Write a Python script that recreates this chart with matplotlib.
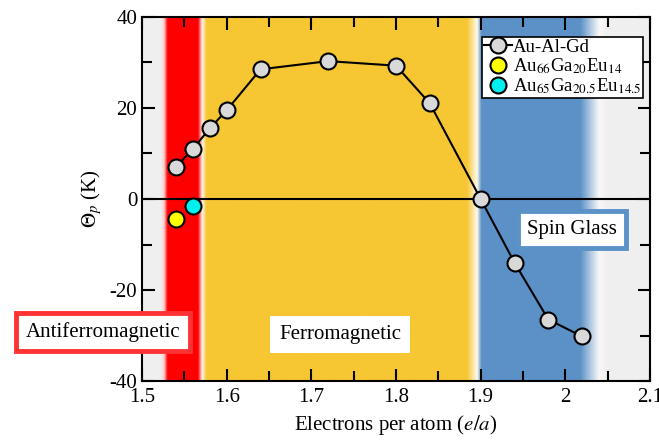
import numpy as np
import matplotlib
matplotlib.use("Agg")
import matplotlib.pyplot as plt
from matplotlib.ticker import MultipleLocator

plt.rcParams['font.family'] = ['Liberation Serif', 'DejaVu Serif']
plt.rcParams['mathtext.fontset'] = 'stix'

# Data
ea_augd = [1.54, 1.56, 1.58, 1.60, 1.64, 1.72, 1.80, 1.84, 1.90, 1.94, 1.98, 2.02]
theta_augd = [7.0, 11.0, 15.5, 19.5, 28.5, 30.3, 29.3, 21.0, 0.0, -14.0, -26.5, -30.2]
ea_eu14 = [1.54]
theta_eu14 = [-4.5]
ea_eu145 = [1.56]
theta_eu145 = [-1.6]

xticks = [1.5, 1.6, 1.7, 1.8, 1.9, 2.0, 2.1]
xticklabels = ['1.5', '1.6', '1.7', '1.8', '1.9', '2', '2.1']
yticks = [-40, -20, 0, 20, 40]
yticklabels = ['-40', '-20', '0', '20', '40']

fig = plt.figure(figsize=(6.59, 4.41), dpi=100)
ax = fig.add_axes([0.2155, 0.136, 0.7708, 0.8255])
xmin, xmax, ymin, ymax = 1.5, 2.1, -40, 40

# Background gradient (phase regions)
gray = (0.94, 0.94, 0.94)
red = (1.0, 0.0, 0.0)
yel = (0.965, 0.78, 0.2)
blu = (0.36, 0.57, 0.78)
wht = (1.0, 0.97, 0.95)
stops = [
    (1.500, gray), (1.522, gray), (1.526, (1.0, 0.8, 0.8)), (1.530, red),
    (1.566, red), (1.571, wht), (1.576, yel),
    (1.884, yel), (1.896, (1.0, 0.98, 0.92)), (1.901, blu),
    (2.018, blu), (2.040, (0.97, 0.97, 0.97)), (2.05, gray), (2.1, gray),
]
xs = np.linspace(xmin, xmax, 1200)
sx = [s[0] for s in stops]
rgb = np.stack([np.interp(xs, sx, [s[1][c] for s in stops]) for c in range(3)], axis=-1)
ax.imshow(rgb[np.newaxis, :, :], extent=[xmin, xmax, ymin, ymax], aspect='auto',
          interpolation='bilinear', zorder=0)

ax.axhline(0, color='black', lw=1.5, zorder=2)

ax.plot(ea_augd, theta_augd, '-o', color='black', lw=1.5, ms=11.5,
        mfc='#d9d9d9', mec='black', mew=1.5, label='Au-Al-Gd', zorder=4)
ax.plot(ea_eu14, theta_eu14, 'o', ms=11.5, mfc='#ffff00', mec='black', mew=1.5,
        label='Au$_{66}$Ga$_{20}$Eu$_{14}$', zorder=4)
ax.plot(ea_eu145, theta_eu145, 'o', ms=11.5, mfc='#00f0f0', mec='black', mew=1.5,
        label='Au$_{65}$Ga$_{20.5}$Eu$_{14.5}$', zorder=4)

ax.set_xlim(xmin, xmax)
ax.set_ylim(ymin, ymax)
ax.set_xticks(xticks)
ax.set_xticklabels(xticklabels)
ax.set_yticks(yticks)
ax.set_yticklabels(yticklabels)
ax.xaxis.set_minor_locator(MultipleLocator(0.05))
ax.yaxis.set_minor_locator(MultipleLocator(10))
ax.tick_params(which='both', direction='in', top=True, right=True, labelsize=15, width=1.5)
ax.tick_params(which='major', length=9)
ax.tick_params(which='minor', length=7)
ax.tick_params(axis='x', pad=5)
for s in ax.spines.values():
    s.set_linewidth(1.5)

ax.set_xlabel('Electrons per atom ($e/a$)', fontsize=15, labelpad=4)
ax.set_ylabel(r'$\Theta_p$ (K)', fontsize=15, labelpad=4)

leg = ax.legend(loc='upper right', bbox_to_anchor=(643 / 659, 1 - 37 / 441),
                bbox_transform=fig.transFigure, fontsize=13.5, frameon=True,
                fancybox=False, edgecolor='black', framealpha=1, handlelength=1.5,
                handletextpad=0.05, borderpad=0.1, labelspacing=0.02, borderaxespad=0.0)
leg.get_frame().set_linewidth(1.2)

ax.text(1.454, -29.2, 'Antiferromagnetic', fontsize=15, ha='center', va='center', zorder=6,
        clip_on=False,
        bbox=dict(boxstyle='square,pad=0.45', fc='white', ec='#ff3333', lw=3.5))
ax.text(1.734, -29.8, 'Ferromagnetic', fontsize=15, ha='center', va='center', zorder=6,
        bbox=dict(boxstyle='square,pad=0.45', fc='white', ec='none'))
ax.text(2.008, -6.7, 'Spin Glass', fontsize=15, ha='center', va='center', zorder=6,
        bbox=dict(boxstyle='square,pad=0.45', fc='white', ec='#5b92c8', lw=3.5))

fig.savefig('out.png', dpi=100)
